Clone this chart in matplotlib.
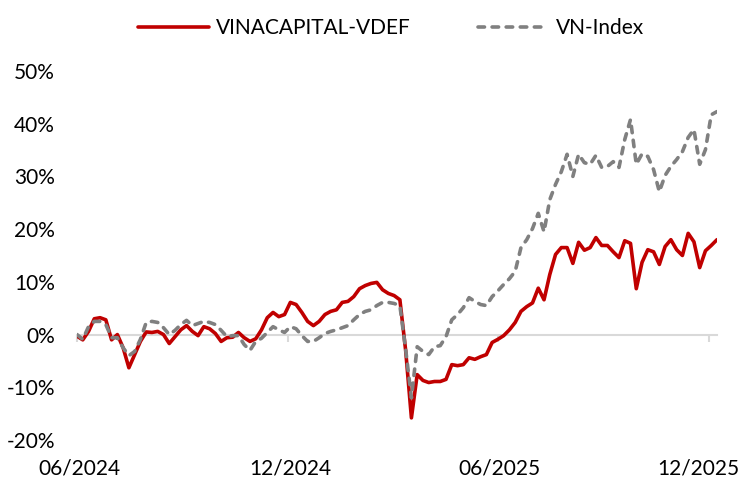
import matplotlib
matplotlib.use("Agg")
import matplotlib.pyplot as plt
import matplotlib.transforms as mtransforms
import pandas as pd

plt.rcParams['font.family'] = ['Lato', 'DejaVu Sans']

start_date = '2024-06-01'
step = '5D'

vdef = [-0.3, -1.0, 0.6, 3.0, 3.2, 2.8, -1.0, 0.0, -2.5, -6.3,
        -3.8, -1.3, 0.5, 0.4, 0.6, 0.0, -1.7, -0.4, 0.9, 1.7,
        0.6, -0.2, 1.5, 1.1, 0.2, -1.3, -0.6, -0.5, 0.4, -0.6,
        -1.3, -0.8, 0.9, 3.2, 4.2, 3.4, 3.8, 6.1, 5.7, 4.2,
        2.5, 1.7, 2.5, 3.8, 4.4, 4.7, 6.1, 6.3, 7.2, 8.7,
        9.3, 9.7, 9.9, 8.5, 7.8, 7.4, 6.6, -3.0, -15.8, -7.6,
        -8.7, -9.1, -8.9, -8.9, -8.5, -5.7, -5.9, -5.7, -4.4, -4.7,
        -4.2, -3.8, -1.5, -0.9, -0.2, 0.9, 2.3, 4.4, 5.3, 6.0,
        8.8, 6.6, 11.4, 15.2, 16.5, 16.5, 13.5, 17.5, 16.0, 16.5,
        18.4, 16.9, 16.9, 15.7, 14.6, 17.8, 17.3, 8.7, 13.7, 16.1,
        15.7, 13.3, 16.7, 18.0, 16.1, 15.0, 19.2, 17.6, 12.7, 15.9,
        16.9, 18.0]

vnindex = [0.0, -0.9, 1.5, 2.5, 2.5, 1.9, -0.6, -0.6, -2.5, -4.0,
           -3.2, -0.9, 2.3, 2.5, 2.3, 1.3, 0.0, 0.8, 1.9, 2.7,
           1.7, 2.1, 2.5, 2.3, 1.9, 0.8, -0.4, -0.2, -0.2, -1.9,
           -3.0, -1.3, -0.7, 0.4, 1.5, 0.9, 0.4, 1.5, 1.1, -0.2,
           -1.3, -1.3, -0.6, 0.2, 0.6, 0.9, 1.3, 1.7, 2.8, 3.8,
           4.4, 4.7, 5.5, 6.1, 6.1, 5.9, 5.5, -2.8, -12.0, -2.3,
           -3.2, -3.8, -2.3, -2.1, -0.4, 2.8, 3.8, 5.1, 7.0, 6.3,
           5.7, 5.5, 7.2, 8.3, 9.5, 10.6, 12.0, 16.5, 18.0, 20.1,
           23.0, 19.5, 25.6, 28.5, 30.9, 34.2, 30.0, 34.2, 32.6, 32.3,
           34.0, 31.7, 31.9, 32.8, 31.7, 37.0, 40.8, 32.3, 34.3, 33.8,
           31.3, 27.1, 30.2, 31.9, 33.2, 34.7, 37.4, 38.9, 32.3, 35.1,
           41.7, 42.3]

series_names = ['VINACAPITAL-VDEF', 'VN-Index']
tick_dates = ['2024-06-01', '2024-12-01', '2025-06-01', '2025-12-01']
tick_labels = ['06/2024', '12/2024', '06/2025', '12/2025']
y_ticks = [-20, -10, 0, 10, 20, 30, 40, 50]

dates = pd.date_range(start_date, periods=len(vdef), freq=step)
tdates = pd.to_datetime(tick_dates)

fig = plt.figure(figsize=(7.49, 4.82), dpi=100)
ax = fig.add_axes([77/749, 42/482, 640/749, 369/482])

red = '#C00000'
grey = '#808080'
ax.plot(dates, vdef, color=red, lw=2.6, solid_capstyle='round', solid_joinstyle='round',
        label=series_names[0], zorder=3)
ax.plot(dates, vnindex, color=grey, lw=2.6, dashes=(1.8, 2.1), dash_capstyle='round',
        label=series_names[1], zorder=4)

ax.set_xlim(dates[0], dates[-1])
ax.set_ylim(-20, 50)

for s in ['top', 'right', 'left']:
    ax.spines[s].set_visible(False)
ax.spines['bottom'].set_position(('data', 0))
ax.spines['bottom'].set_color('#D9D9D9')
ax.spines['bottom'].set_linewidth(1.5)
ax.spines['bottom'].set_zorder(1)

ax.set_xticks(tdates)
ax.tick_params(axis='x', direction='out', length=5, width=1.5, color='#D9D9D9',
               labelbottom=False)

ax.set_yticks(y_ticks)
ax.set_yticklabels([f'{v}%' for v in y_ticks])
ax.tick_params(axis='y', length=0, pad=16, labelsize=15, labelcolor='black')

xt = ax.get_xaxis_transform()
for i, (d, lab) in enumerate(zip(tdates, tick_labels)):
    if i == len(tick_labels) - 1:
        tr = mtransforms.offset_copy(xt, fig=fig, x=30, y=0, units='dots')
        ax.text(d, -0.076, lab, transform=tr, ha='right', va='center', fontsize=15)
    else:
        tr = mtransforms.offset_copy(xt, fig=fig, x=2, y=0, units='dots')
        ax.text(d, -0.076, lab, transform=tr, ha='center', va='center', fontsize=15)

fig.legend(loc='center', bbox_to_anchor=(391/749, 1 - 28/482), ncol=2, frameon=False,
           fontsize=15, handlelength=3.4, handletextpad=0.35, columnspacing=3.2)

fig.savefig('out.png', dpi=100, facecolor='white')
